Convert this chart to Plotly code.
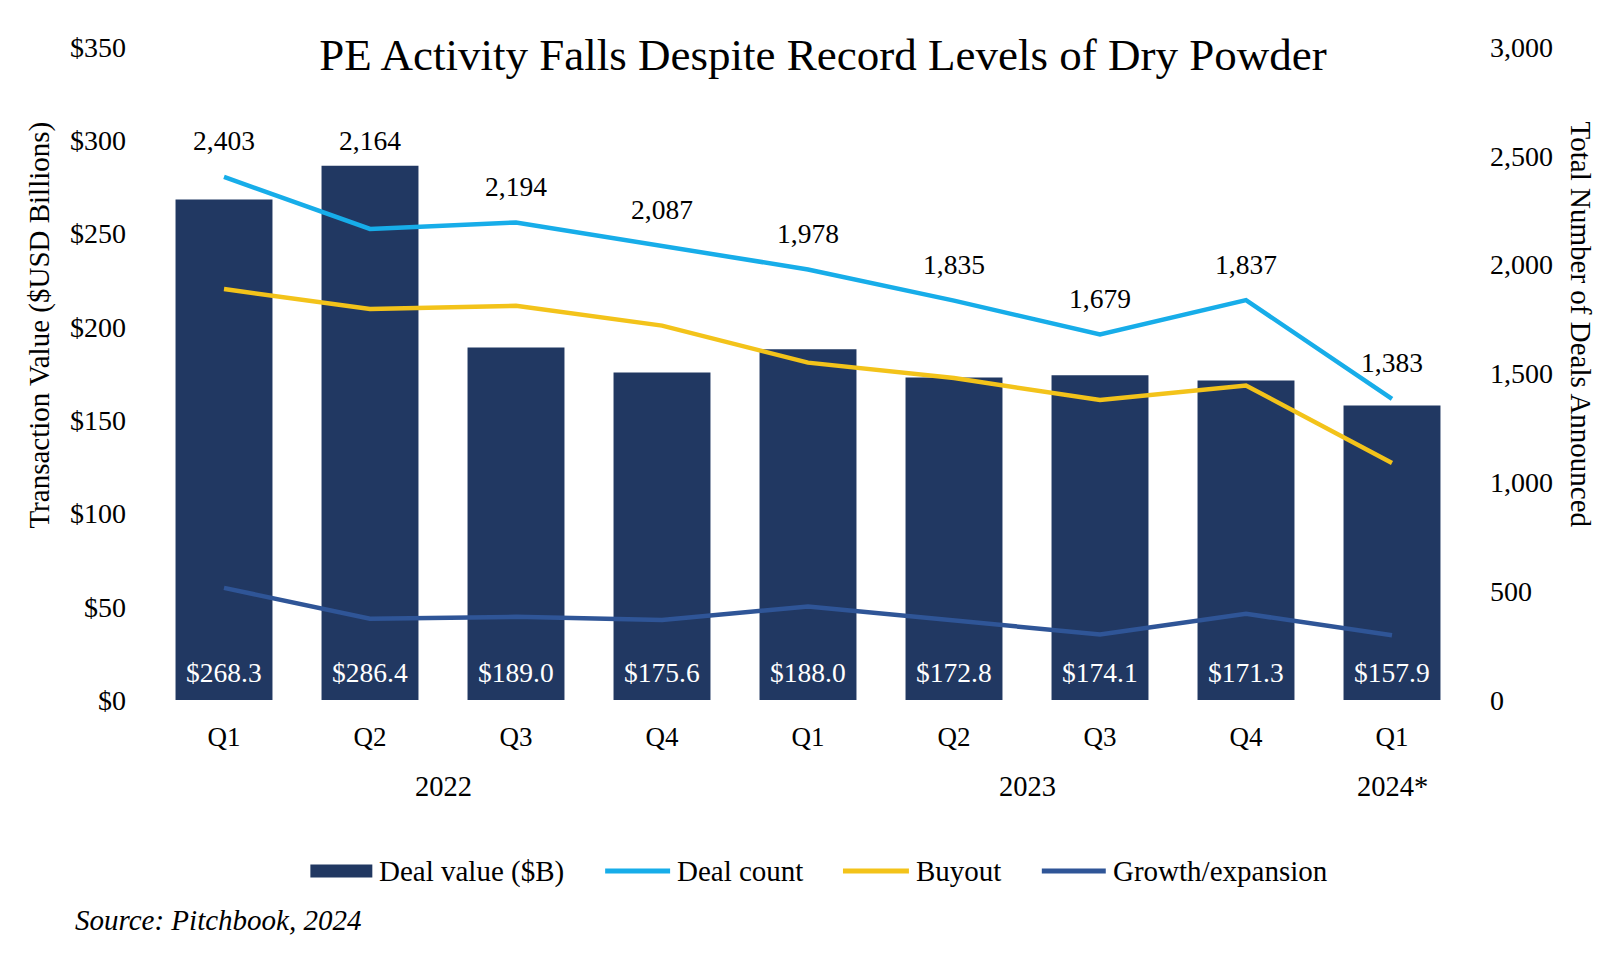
import plotly.graph_objects as go

# ---------------- data ----------------
quarters = ["Q1", "Q2", "Q3", "Q4", "Q1", "Q2", "Q3", "Q4", "Q1"]
years = ["2022", "2023", "2024*"]
year_sizes = [4, 4, 1]
deal_value = [268.3, 286.4, 189.0, 175.6, 188.0, 172.8, 174.1, 171.3, 157.9]
deal_count = [2403, 2164, 2194, 2087, 1978, 1835, 1679, 1837, 1383]
buyout = [1888, 1796, 1811, 1720, 1550, 1479, 1378, 1445, 1089]
growth = [515, 373, 382, 368, 430, 368, 301, 396, 297]
left_ticks = [0, 50, 100, 150, 200, 250, 300, 350]
right_ticks = [0, 500, 1000, 1500, 2000, 2500, 3000]

# ---------------- style / layout ----------------
FONT = "Liberation Serif, Times New Roman, serif"
C_BAR = "#213862"
C_COUNT = "#17ADE9"
C_BUY = "#F3C31A"
C_GROW = "#2F5597"
OFF = 8                      # default page body margin
W, H = 1620 - 2 * OFF, 956 - 2 * OFF
L = 150.5 - OFF
T = 47 - OFF
R = W - (1465.5 - OFF)
B = H - (700 - OFF)
PW, PH = W - L - R, H - T - B
Y1MAX, Y2MAX = 350, 3000

def px_x(p):
    return (p - OFF - L) / PW

def px_y(p):
    return (H - B - (p - OFF)) / PH

x = list(range(len(quarters)))

fig = go.Figure()
fig.add_trace(go.Bar(x=x, y=deal_value, width=0.664, marker=dict(color=C_BAR, line=dict(width=0)),
                     name="Deal value ($B)", yaxis="y", showlegend=False))
fig.add_trace(go.Scatter(x=x, y=deal_count, mode="lines", line=dict(color=C_COUNT, width=4.5),
                         name="Deal count", yaxis="y2", showlegend=False))
fig.add_trace(go.Scatter(x=x, y=buyout, mode="lines", line=dict(color=C_BUY, width=4.5),
                         name="Buyout", yaxis="y2", showlegend=False))
fig.add_trace(go.Scatter(x=x, y=growth, mode="lines", line=dict(color=C_GROW, width=4.5),
                         name="Growth/expansion", yaxis="y2", showlegend=False))

ann = []
# bar value labels (inside, near base)
for i, v in enumerate(deal_value):
    ann.append(dict(x=i, y=0, xref="x", yref="y", text=f"${v:.1f}", showarrow=False,
                    yanchor="middle", yshift=28, font=dict(family=FONT, size=27.5, color="white")))
# deal count labels above the line (moved above the bar if the bar is in the way)
for i, c in enumerate(deal_count):
    if deal_value[i] / Y1MAX > c / Y2MAX + 23 / PH:
        ann.append(dict(x=i, y=deal_value[i], xref="x", yref="y", text=f"{c:,}", showarrow=False,
                        yanchor="middle", yshift=25, font=dict(family=FONT, size=27.5, color="black")))
    else:
        ann.append(dict(x=i, y=c, xref="x", yref="y2", text=f"{c:,}", showarrow=False,
                        yanchor="middle", yshift=36, font=dict(family=FONT, size=27.5, color="black")))
# year group labels
start = 0
for yr, n in zip(years, year_sizes):
    ann.append(dict(x=start + (n - 1) / 2, y=px_y(786), xref="x", yref="paper", text=yr,
                    showarrow=False, yanchor="middle",
                    font=dict(family=FONT, size=28.5, color="black")))
    start += n
# axis titles
ann.append(dict(x=px_x(38), y=px_y(325), xref="paper", yref="paper",
                text="Transaction Value ($USD Billions)", textangle=-90, showarrow=False,
                xanchor="center", yanchor="middle", font=dict(family=FONT, size=29, color="black")))
ann.append(dict(x=px_x(1582), y=px_y(325), xref="paper", yref="paper",
                text="Total Number of Deals Announced", textangle=90, showarrow=False,
                xanchor="center", yanchor="middle", font=dict(family=FONT, size=29, color="black")))
# source
ann.append(dict(x=px_x(72), y=px_y(920), xref="paper", yref="paper",
                text="<i>Source: Pitchbook, 2024</i>", showarrow=False,
                xanchor="left", yanchor="middle", font=dict(family=FONT, size=29, color="black")))

# manual legend
legend_items = [
    ("Deal value ($B)", C_BAR, "bar", 310, 372),
    ("Deal count", C_COUNT, "line", 605, 670),
    ("Buyout", C_BUY, "line", 843, 909),
    ("Growth/expansion", C_GROW, "line", 1042, 1106),
]
LEG_Y = 871
shapes = []
for name, col, kind, x0, x1 in legend_items:
    if kind == "bar":
        shapes.append(dict(type="rect", xref="paper", yref="paper", x0=px_x(x0), x1=px_x(x1),
                           y0=px_y(LEG_Y - 6.5), y1=px_y(LEG_Y + 6.5), fillcolor=col, line=dict(width=0)))
    else:
        shapes.append(dict(type="line", xref="paper", yref="paper", x0=px_x(x0), x1=px_x(x1),
                           y0=px_y(LEG_Y), y1=px_y(LEG_Y), line=dict(color=col, width=5)))
    ann.append(dict(x=px_x(x1 + 5), y=px_y(LEG_Y), xref="paper", yref="paper", text=name,
                    showarrow=False, xanchor="left", yanchor="middle",
                    font=dict(family=FONT, size=29, color="black")))

fig.update_layout(
    width=W, height=H,
    margin=dict(l=L, r=R, t=T, b=B, pad=0),
    paper_bgcolor="white", plot_bgcolor="white",
    font=dict(family=FONT, size=26, color="black"),
    title=dict(text="PE Activity Falls Despite Record Levels of Dry Powder",
               x=(823 - OFF) / W, y=1 - (54 - OFF) / H, xref="container", yref="container",
               xanchor="center", yanchor="middle",
               font=dict(family=FONT, size=45, color="black")),
    xaxis=dict(range=[-0.5, len(quarters) - 0.5], tickmode="array", tickvals=x, ticktext=quarters,
               showgrid=False, zeroline=False, showline=False, ticks="", ticklabelstandoff=18,
               tickfont=dict(family=FONT, size=27, color="black")),
    yaxis=dict(range=[0, Y1MAX], tickmode="array", tickvals=left_ticks,
               ticktext=[f"${v}" for v in left_ticks], showgrid=False, zeroline=False,
               showline=False, ticks="", ticklabelstandoff=24,
               tickfont=dict(family=FONT, size=28, color="black")),
    yaxis2=dict(range=[0, Y2MAX], overlaying="y", side="right", tickmode="array",
                tickvals=right_ticks, ticktext=[f"{v:,}" for v in right_ticks],
                showgrid=False, zeroline=False, showline=False, ticks="", ticklabelstandoff=24,
                tickfont=dict(family=FONT, size=28, color="black")),
    annotations=ann, shapes=shapes, showlegend=False,
)

fig.write_html("out.html")
